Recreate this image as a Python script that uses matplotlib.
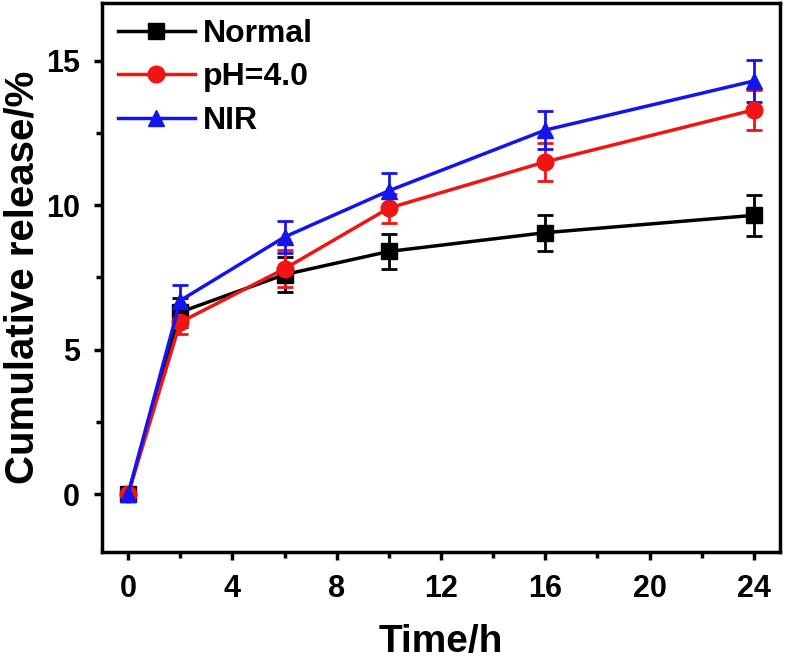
import matplotlib
matplotlib.use('Agg')
import matplotlib.pyplot as plt
from matplotlib.ticker import MultipleLocator

plt.rcParams['font.family'] = ['Liberation Sans', 'DejaVu Sans']
plt.rcParams['font.weight'] = 'bold'

time_h = [0, 2, 6, 10, 16, 24]

normal = [0, 6.3, 7.6, 8.4, 9.05, 9.65]
normal_err = [0.1, 0.5, 0.6, 0.6, 0.62, 0.7]

ph4 = [0, 5.95, 7.8, 9.9, 11.5, 13.3]
ph4_err = [0.1, 0.4, 0.64, 0.5, 0.65, 0.7]

nir = [0, 6.7, 8.9, 10.5, 12.6, 14.3]
nir_err = [0.1, 0.55, 0.56, 0.6, 0.66, 0.73]

series = [
    ('Normal', normal, normal_err, 'black', 's', 11),
    ('pH=4.0', ph4, ph4_err, '#f01414', 'o', 12),
    ('NIR', nir, nir_err, '#1414ee', '^', 12),
]

fig = plt.figure(figsize=(7.87, 6.6), dpi=100)
ax = fig.add_axes([0.1296, 0.1636, 0.8614, 0.832])

handles = []
for label, y, err, color, marker, ms in series:
    eb = ax.errorbar(time_h, y, yerr=err, color=color, marker=marker, markersize=ms,
                     linewidth=2.5, elinewidth=2, capsize=6, capthick=2, label=label)
    handles.append(eb[0])

ax.set_xlim(-1, 25)
ax.set_ylim(-2, 17)
ax.xaxis.set_major_locator(MultipleLocator(4))
ax.xaxis.set_minor_locator(MultipleLocator(2))
ax.yaxis.set_major_locator(MultipleLocator(5))
ax.yaxis.set_minor_locator(MultipleLocator(2.5))
ax.tick_params(which='major', direction='out', length=6, width=2.5, labelsize=22, pad=10)
ax.tick_params(which='minor', direction='out', length=4, width=2.5)
for sp in ax.spines.values():
    sp.set_linewidth(2.5)
for lab in ax.get_xticklabels() + ax.get_yticklabels():
    lab.set_fontweight('bold')

ax.set_xlabel('Time/h', fontsize=28, fontweight='bold', labelpad=14)
ax.set_ylabel('Cumulative release/%', fontsize=29, fontweight='bold', labelpad=3)

leg = ax.legend(handles, [s[0] for s in series], loc='upper left', frameon=False,
                fontsize=23, handlelength=2.4, borderaxespad=0.2, borderpad=0.3,
                labelspacing=0.42, handletextpad=0.25)
for t in leg.get_texts():
    t.set_fontweight('bold')

fig.savefig('out.png', dpi=100)
